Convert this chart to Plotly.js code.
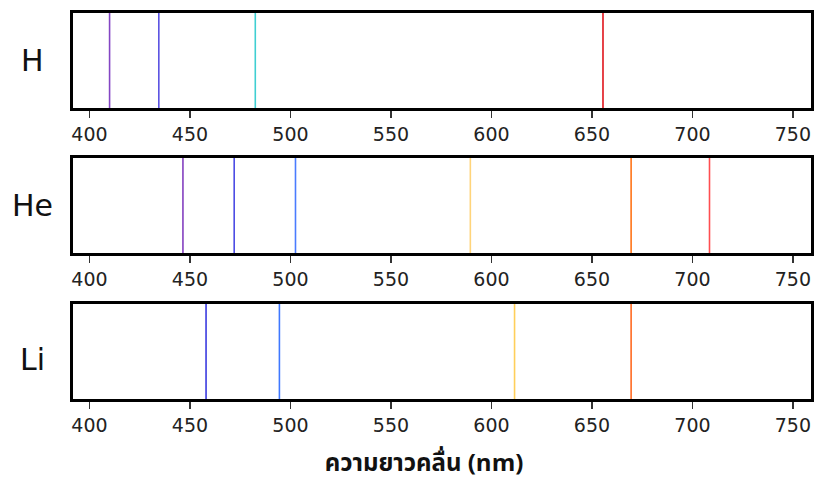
<!DOCTYPE html>
<html>
<head>
<meta charset="utf-8">
<script src="https://cdn.plot.ly/plotly-3.0.1.min.js"></script>
<style>html,body{margin:0;padding:0;background:#fff;}#chart{width:819px;height:478px;}</style>
</head>
<body>
<div id="chart"></div>
<script>
// Element names
const elements = ["H", "He", "Li"];
// Emission line wavelengths (nm)
const hLines  = [410, 434.5, 482.5, 655.5];
const heLines = [446.5, 472, 502.5, 589.5, 669.5, 708.5];
const liLines = [458, 494.5, 611.5, 669.5];
// Line colours
const hColors  = ["#8446c4", "#5a52e2", "#3fcfd2", "#e0141c"];
const heColors = ["#8440c0", "#4c4ce4", "#4a7cff", "#ffd47a", "#ff7418", "#ff4e50"];
const liColors = ["#3a3ae0", "#3f78ff", "#ffcf5a", "#ff6a22"];
// Tick labels
const tickVals = [400, 450, 500, 550, 600, 650, 700, 750];
const xTitle = "ความยาวคลื่น (nm)";

const allLines = [hLines, heLines, liLines];
const allColors = [hColors, heColors, liColors];
const traces = [];
allLines.forEach((lines, i) => {
  lines.forEach((w, j) => {
    traces.push({
      x: [w, w], y: [0, 1], mode: "lines", type: "scatter",
      line: {color: allColors[i][j], width: 1.6},
      xaxis: i === 0 ? "x" : "x" + (i + 1),
      yaxis: i === 0 ? "y" : "y" + (i + 1),
      hoverinfo: "x", showlegend: false
    });
  });
});

const H = 478, T = 13, B = 79;
const plotH = H - T - B;
const pix = [[13, 108], [158, 253], [304, 399]];
const dom = pix.map(p => [(399 - p[1]) / plotH, (399 - p[0]) / plotH]);

function xax(anchor) {
  return {
    range: [391.8, 759], anchor: anchor, showgrid: false, zeroline: false,
    showline: true, mirror: true, linecolor: "#000", linewidth: 3,
    ticks: "outside", ticklen: 7, tickwidth: 1.5, tickcolor: "#333",
    tickvals: tickVals, ticktext: tickVals.map(String),
    tickfont: {family: "DejaVu Sans", size: 19, color: "#222"},
    fixedrange: true
  };
}
function yax(d, anchor) {
  return {
    domain: d, range: [0, 1], anchor: anchor, showgrid: false, zeroline: false,
    showline: true, mirror: true, linecolor: "#000", linewidth: 3,
    showticklabels: false, ticks: "", fixedrange: true
  };
}

const annotations = elements.map((e, i) => ({
  text: e, xref: "paper", yref: "paper", showarrow: false,
  x: (32 - 73) / 738, y: (dom[i][0] + dom[i][1]) / 2 + (i === 2 ? -0.02 : 0),
  xanchor: "center", yanchor: "middle",
  font: {family: "DejaVu Sans", size: 30, color: "#111"}
}));
annotations.push({
  text: "<b>" + xTitle + "</b>", xref: "paper", yref: "paper", showarrow: false,
  x: (424 - 73) / 738, y: (399 - 464) / plotH, xanchor: "center", yanchor: "middle",
  width: 280, height: 40, align: "center", valign: "middle",
  font: {family: "Noto Sans Thai, Noto Sans, DejaVu Sans, sans-serif", size: 24, color: "#111"}
});

const layout = {
  width: 819, height: 478,
  margin: {l: 73, r: 8, t: T, b: B},
  paper_bgcolor: "#fff", plot_bgcolor: "#fff",
  showlegend: false,
  xaxis: xax("y"), yaxis: yax(dom[0], "x"),
  xaxis2: xax("y2"), yaxis2: yax(dom[1], "x2"),
  xaxis3: xax("y3"), yaxis3: yax(dom[2], "x3"),
  annotations: annotations
};

Plotly.newPlot("chart", traces, layout, {displayModeBar: false, staticPlot: true});
</script>
</body>
</html>
